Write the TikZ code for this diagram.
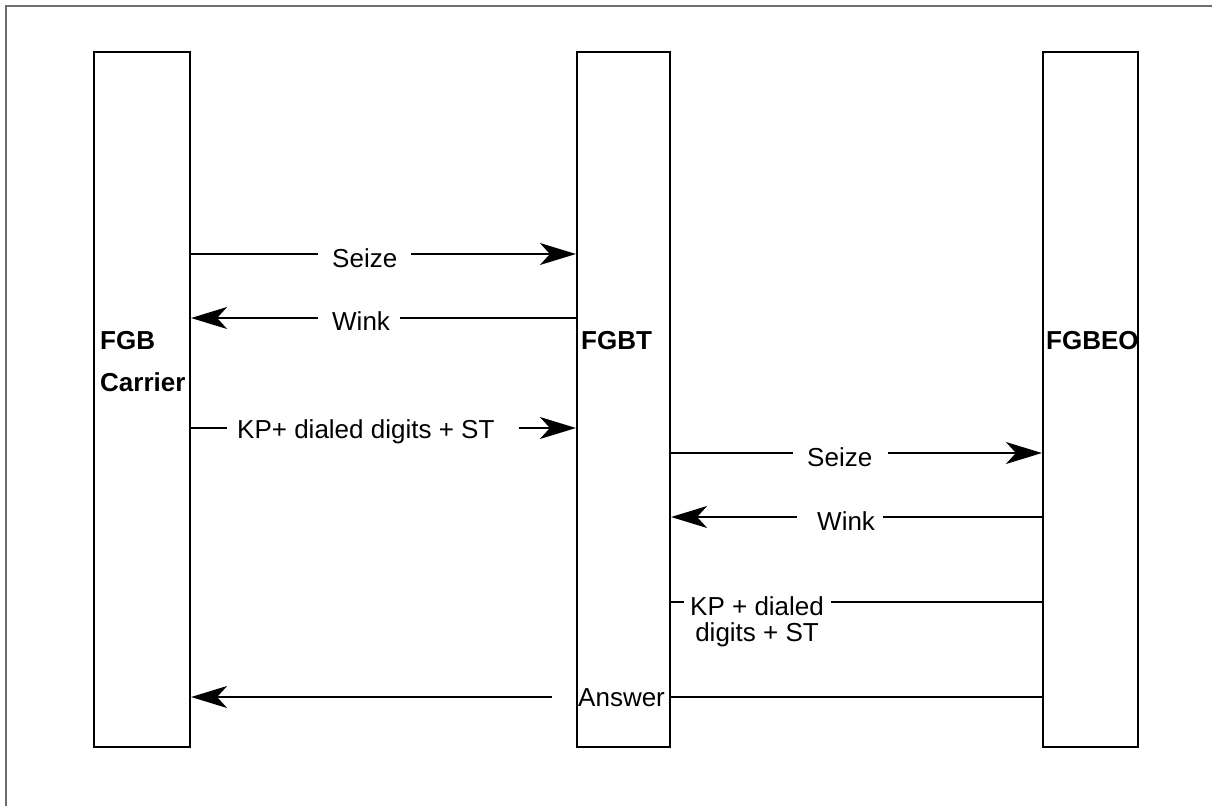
\documentclass[tikz,border=0pt]{standalone}
\usepackage{fontspec}
\setmainfont{Liberation Sans}
\usetikzlibrary{arrows.meta}
\definecolor{framegray}{RGB}{110,110,110}
\begin{document}
\begin{tikzpicture}[x=1pt,y=-1pt,
  box/.style={draw=black,line width=2.2pt,minimum width=#1,inner sep=0pt,minimum height=695pt},
  ln/.style={draw=black,line width=1.6pt},
  arr/.style={ln,-{Stealth[length=36pt,width=22pt,inset=10pt]}},
  lbl/.style={inner sep=0pt,anchor=base west,font=\fontsize{26}{28}\selectfont},
  blbl/.style={lbl,font=\fontsize{26}{42}\selectfont\bfseries,align=left}]
\useasboundingbox (0,0) rectangle (1212,806);
% frame
\draw[framegray,line width=2pt] (6,806) -- (6,6) -- (1212,6);
% boxes
\node[box=96pt] (L) at (142,399.5) {};
\node[box=93pt] (M) at (623.5,399.5) {};
\node[box=95pt] (R) at (1090.5,399.5) {};
% box labels
\node[blbl] (lL) at (100,391) {FGB\\Carrier};
\node[lbl,font=\fontsize{26}{28}\selectfont\bfseries] (lM) at (581,349) {FGBT};
\node[lbl,font=\fontsize{26}{28}\selectfont\bfseries] (lR) at (1046,349) {FGBEO};
% row y-coordinates
\coordinate (y1) at (0,254);
\coordinate (y2) at (0,318);
\coordinate (y3) at (0,428);
\coordinate (y4) at (0,453);
\coordinate (y5) at (0,517);
\coordinate (y6) at (0,602);
\coordinate (y7) at (0,697);
% texts
\node[lbl] (t1) at (332,267) {Seize};
\node[lbl] (t2) at (332,330) {Wink};
\node[lbl] (t3) at (237,438) {KP+ dialed digits + ST};
\node[lbl] (t4) at (807,466) {Seize};
\node[lbl] (t5) at (817,530) {Wink};
\node[inner sep=0pt,anchor=north west,font=\fontsize{26}{26}\selectfont,align=center] (t6) at (690,596) {KP + dialed\\digits + ST};
\node[lbl] (t7) at (578,706) {Answer};
% 1 Seize
\draw[ln] (L.east |- y1) -- ([xshift=-14pt]t1.west |- y1);
\draw[arr] ([xshift=14pt]t1.east |- y1) -- (M.west |- y1);
% 2 Wink
\draw[arr] ([xshift=-14pt]t2.west |- y2) -- (L.east |- y2);
\draw[ln] ([xshift=10pt]t2.east |- y2) -- (M.west |- y2);
% 3 KP+
\draw[ln] (L.east |- y3) -- ([xshift=-10pt]t3.west |- y3);
\draw[arr] ([xshift=24pt]t3.east |- y3) -- (M.west |- y3);
% 4 Seize
\draw[ln] (M.east |- y4) -- ([xshift=-14pt]t4.west |- y4);
\draw[arr] ([xshift=16pt]t4.east |- y4) -- (R.west |- y4);
% 5 Wink
\draw[arr] ([xshift=-20pt]t5.west |- y5) -- (M.east |- y5);
\draw[ln] ([xshift=8pt]t5.east |- y5) -- (R.west |- y5);
% 6 KP + dialed digits + ST
\draw[ln] (M.east |- y6) -- ([xshift=-6pt]t6.west |- y6);
\draw[ln] ([xshift=7pt]t6.east |- y6) -- (R.west |- y6);
% 7 Answer
\draw[ln] (R.west |- y7) -- (M.east |- y7);
\draw[arr] ([xshift=-26pt]t7.west |- y7) -- (L.east |- y7);
\end{tikzpicture}
\end{document}
